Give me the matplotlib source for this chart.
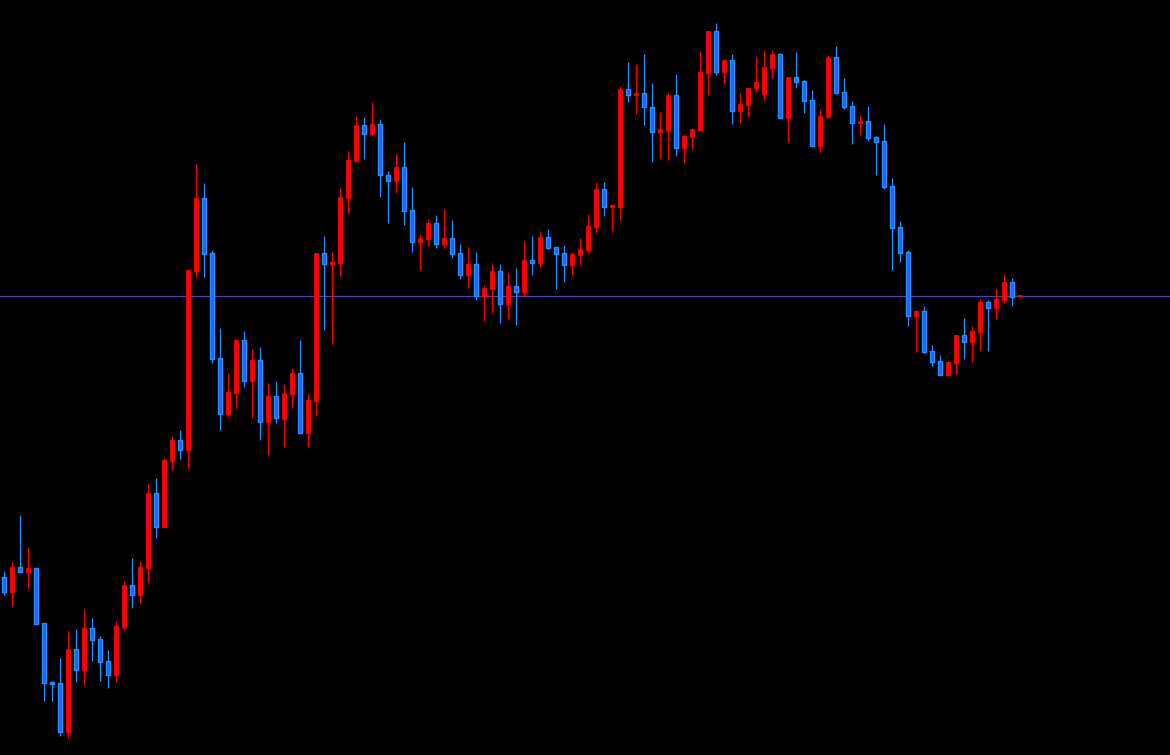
import numpy as np
import matplotlib
matplotlib.use('Agg')
from matplotlib import pyplot as plt

# OHLC values (price units, bottom of chart = 0)
opens = [178, 163, 188, 183, 187, 132, 73, 72, 23, 106, 85, 127, 116, 94, 80, 128, 170, 160, 187, 262,
         228, 294, 315, 305, 484, 557, 502, 397, 341, 362, 415, 374, 395, 333, 359, 336, 361, 382, 322, 354,
         502, 491, 492, 557, 594, 630, 621, 631, 580, 574, 588, 545, 513, 516, 532, 511, 517, 502, 480, 491,
         459, 466, 484, 451, 469, 463, 495, 492, 518, 508, 502, 490, 500, 505, 528, 566, 548, 548, 666, 660,
         662, 648, 623, 625, 660, 607, 619, 625, 682, 724, 683, 695, 644, 650, 667, 661, 687, 701, 637, 678,
         674, 655, 609, 638, 698, 663, 649, 632, 634, 618, 614, 569, 528, 503, 439, 444, 404, 394, 380, 392,
         420, 413, 423, 453, 447, 455, 473, 459]
highs = [184, 194, 240, 208, 187, 132, 74, 97, 124, 126, 146, 137, 119, 105, 134, 174, 197, 194, 271, 277,
         297, 319, 325, 485, 591, 572, 505, 427, 382, 415, 424, 406, 408, 372, 374, 371, 387, 415, 361, 502,
         519, 503, 567, 604, 639, 638, 653, 636, 584, 601, 613, 568, 521, 536, 540, 546, 535, 511, 508, 503,
         470, 491, 491, 482, 487, 514, 519, 524, 526, 508, 510, 503, 517, 541, 573, 573, 551, 669, 693, 691,
         701, 672, 643, 663, 681, 621, 627, 704, 724, 732, 695, 701, 662, 667, 698, 705, 705, 702, 678, 703,
         675, 665, 646, 700, 709, 677, 654, 640, 649, 619, 631, 577, 534, 505, 445, 449, 410, 400, 394, 420,
         437, 429, 456, 455, 466, 481, 477, 459]
lows = [160, 149, 183, 167, 131, 54, 54, 19, 17, 73, 70, 94, 74, 67, 73, 125, 147, 152, 172, 217,
        228, 285, 296, 287, 478, 478, 392, 325, 338, 347, 368, 337, 315, 300, 332, 308, 347, 322, 308, 339,
        425, 411, 479, 542, 594, 596, 620, 558, 532, 562, 530, 503, 485, 509, 507, 507, 497, 476, 467, 455,
        434, 442, 432, 436, 430, 459, 480, 488, 506, 466, 473, 480, 490, 502, 522, 539, 524, 535, 653, 641,
        630, 593, 597, 595, 599, 592, 606, 624, 660, 680, 671, 631, 632, 638, 663, 655, 677, 637, 613, 667,
        642, 609, 603, 638, 662, 646, 611, 620, 614, 580, 566, 485, 493, 429, 403, 402, 389, 380, 379, 381,
        396, 393, 405, 404, 436, 452, 449, 459]
closes = [163, 188, 183, 187, 131, 72, 71, 23, 106, 85, 127, 115, 93, 80, 129, 170, 160, 188, 262, 228,
          295, 315, 305, 485, 557, 501, 396, 341, 363, 415, 374, 395, 333, 359, 337, 362, 382, 322, 355, 502,
          491, 493, 558, 595, 630, 621, 631, 580, 574, 588, 544, 513, 517, 532, 511, 517, 501, 480, 491, 459,
          467, 484, 451, 469, 463, 495, 492, 518, 507, 501, 490, 501, 506, 529, 566, 548, 550, 666, 660, 662,
          648, 623, 626, 660, 607, 619, 626, 683, 724, 683, 695, 644, 651, 667, 673, 688, 701, 637, 678, 673,
          654, 609, 639, 698, 662, 648, 632, 634, 617, 613, 568, 527, 502, 439, 444, 403, 393, 380, 393, 420,
          413, 424, 453, 447, 456, 473, 458, 459]
bid = 459

o = np.array(opens, float)
h = np.array(highs, float)
l = np.array(lows, float)
c = np.array(closes, float)
x = np.arange(len(o))
up = c >= o

red = '#ff0000'
blue_edge = '#1e90ff'
blue_face = '#2f5cff'

fig = plt.figure(figsize=(11.7, 7.55), dpi=100, facecolor='black')
ax = fig.add_axes([0, 0, 1, 1])
ax.set_facecolor('black')

ax.axhline(bid, color='#4a44b8', linewidth=0.9, zorder=1)

wick_cols = np.where(up, red, blue_edge)
ax.vlines(x, l, h, colors=wick_cols, linewidth=0.9, zorder=2)

bottoms = np.minimum(o, c)
heights = np.maximum(np.abs(c - o), 1.0)
w = 0.62
ax.bar(x[up], heights[up], bottom=bottoms[up], width=w, color=red, edgecolor=red,
       linewidth=0.6, zorder=3)
ax.bar(x[~up], heights[~up], bottom=bottoms[~up], width=w, color=blue_face, edgecolor=blue_edge,
       linewidth=1.0, zorder=3)

ax.set_xlim(-0.5, 145.75)
ax.set_ylim(0, 755)
ax.set_xticks([]), ax.set_yticks([])
for s in ax.spines.values():
    s.set_visible(False)

fig.savefig('out.png', dpi=100, facecolor='black')
